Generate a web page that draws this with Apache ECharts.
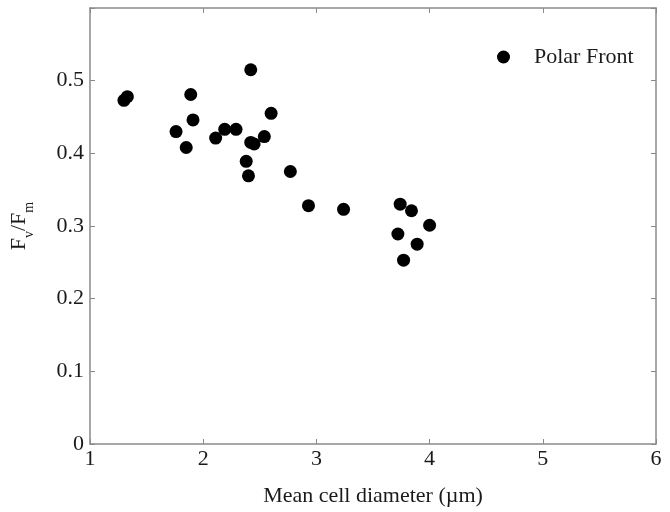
<!DOCTYPE html>
<html><head><meta charset="utf-8">
<script src="https://cdn.jsdelivr.net/npm/echarts@6/dist/echarts.min.js"></script>
<style>html,body{margin:0;padding:0;background:#fff}#c{width:670px;height:512px}</style>
</head><body><div id="c"></div>
<script>
const seriesName = 'Polar Front';
const xValues = [1.30,1.33,1.89,2.42,2.60,1.91,1.76,2.19,2.29,2.11,2.54,2.42,2.45,1.85,2.38,2.40,2.77,2.93,3.24,3.74,3.84,4.00,3.72,3.89,3.77];
const yValues = [0.473,0.478,0.481,0.515,0.455,0.446,0.430,0.433,0.433,0.421,0.423,0.415,0.413,0.408,0.389,0.369,0.375,0.328,0.323,0.330,0.321,0.301,0.289,0.275,0.253];
const xTicks = [1,2,3,4,5,6];
const yTicks = [0,0.1,0.2,0.3,0.4,0.5];
const xTitle = 'Mean cell diameter (\u00b5m)';

const font = 'Liberation Serif';
const axisGray = '#8a8a8a';
const txt = '#1a1a1a';
const data = xValues.map((x,i)=>[x,yValues[i]]);
const chart = echarts.init(document.getElementById('c'));
const common = {
  axisLine:{show:true,onZero:false,lineStyle:{color:axisGray,width:1.5}},
  axisTick:{show:true,inside:true,length:5,lineStyle:{color:axisGray}},
  splitLine:{show:false}
};
chart.setOption({
  animation:false,
  backgroundColor:'#fff',
  textStyle:{fontFamily:font},
  grid:{left:86,right:14,top:8,bottom:55,containLabel:false},
  legend:{
    data:[seriesName], left:492, top:41, itemWidth:13, itemHeight:13, icon:'circle',
    textStyle:{fontFamily:font,fontSize:22,color:txt,padding:[0,0,0,19]}
  },
  xAxis:[
    Object.assign({type:'value',min:1,max:6,interval:1,position:'bottom',
      name:xTitle,nameLocation:'middle',nameGap:41,
      nameTextStyle:{fontFamily:font,fontSize:22,color:txt},
      axisLabel:{fontFamily:font,fontSize:22,color:txt,margin:4,formatter:v=>xTicks.includes(v)?String(v):''}},common),
    Object.assign({type:'value',min:1,max:6,interval:1,position:'top',axisLabel:{show:false}},common)
  ],
  yAxis:[
    Object.assign({type:'value',min:0,max:0.6,interval:0.1,position:'left',
      name:'{b|F}{s|v}{b|/F}{s|m}',nameLocation:'middle',nameGap:54,nameRotate:90,
      nameTextStyle:{rich:{
        b:{fontFamily:font,fontSize:22,color:txt,lineHeight:34,verticalAlign:'middle'},
        s:{fontFamily:font,fontSize:14,color:txt,lineHeight:14,verticalAlign:'bottom'}
      }},
      axisLabel:{fontFamily:font,fontSize:22,color:txt,margin:6,
        formatter:v=>{const r=Math.round(v*10)/10; return yTicks.includes(r)?String(r):'';}}},common),
    Object.assign({type:'value',min:0,max:0.6,interval:0.1,position:'right',axisLabel:{show:false}},common)
  ],
  series:[{
    name:seriesName,type:'scatter',xAxisIndex:0,yAxisIndex:0,data:data,
    symbol:'circle',symbolSize:13,itemStyle:{color:'#000',opacity:1}
  }]
});
</script></body></html>
